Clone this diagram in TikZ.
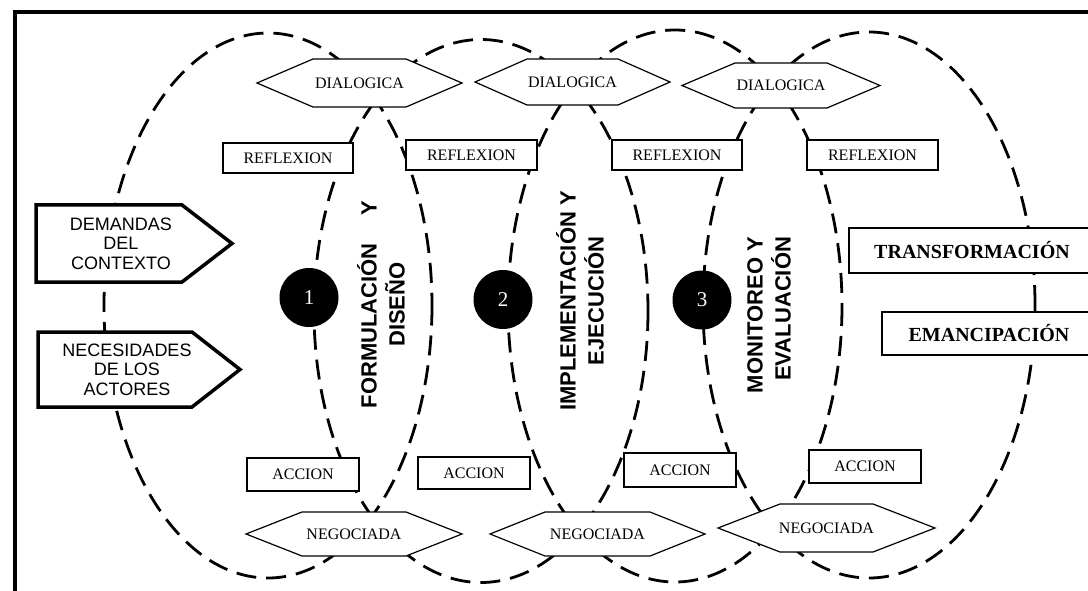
\documentclass[tikz,border=0pt]{standalone}
\usepackage{fontspec}
\setmainfont{Liberation Serif}
\setsansfont{Liberation Sans}

% hexagon pointing left and right: name, x-left, x-right, y-top, y-bottom, cut, text
\newcommand\hexnode[7]{%
  \draw[hexline] (#2,{(#4+#5)/2}) -- (#2+#6,#4) -- (#3-#6,#4) -- (#3,{(#4+#5)/2})
    -- (#3-#6,#5) -- (#2+#6,#5) -- cycle;
  \node[tag] (#1) at ({(#2+#3)/2},{(#4+#5)/2}) {#7};
}
% input arrow box: name, x-left, x-shoulder, x-tip, y-top, y-bottom, text x, text
\newcommand\inputnode[8]{%
  \draw[inputline] (#2,#5) -- (#3,#5) -- (#4,{(#5+#6)/2}) -- (#3,#6) -- (#2,#6) -- cycle;
  \node[inputtext] (#1) at (#7,{(#5+#6)/2}) {#8};
}

\begin{document}
\begin{tikzpicture}[x=1pt,y=-1pt,
  ell/.style={line width=2.8pt, dash pattern=on 20pt off 10pt},
  hexline/.style={line width=1.2pt, fill=white},
  tag/.style={inner sep=0pt, font=\fontsize{16}{18}\selectfont},
  smallbox/.style={draw, line width=1.2pt, fill=white, inner sep=0pt,
    font=\fontsize{16}{18}\selectfont},
  inputline/.style={line width=3.5pt, fill=white, line join=miter},
  inputtext/.style={align=center, inner sep=0pt,
    font=\sffamily\fontsize{18}{19.5}\selectfont},
  outcome/.style={draw, line width=2.5pt, fill=white, inner sep=0pt,
    font=\bfseries\fontsize{20}{22}\selectfont},
  stage/.style={circle, fill=black, minimum size=59pt, inner sep=0pt,
    text=white, font=\fontsize{21}{21}\selectfont},
  phase/.style={rotate=90, inner sep=0pt,
    font=\sffamily\bfseries\fontsize{22}{28}\selectfont}
]
\useasboundingbox (0,0) rectangle (1088,591);
\clip (0,0) rectangle (1088,591);
\fill[white] (0,0) rectangle (1088,591);

% outer frame
\draw[line width=4pt] (15,700) -- (15,12) -- (1200,12);

% the four dashed cycles
\draw[ell] (268,305.5) ellipse [x radius=164, y radius=272.5];
\draw[ell] (481,311) ellipse [x radius=167, y radius=271.5];
\draw[ell] (675,306) ellipse [x radius=167, y radius=276];
\draw[ell] (869,305) ellipse [x radius=166, y radius=273];

% top: dialogic moments
\hexnode{dia1}{257}{462}{59}{107}{56}{DIALOGICA}
\hexnode{dia2}{475}{670}{59}{105}{52}{DIALOGICA}
\hexnode{dia3}{682}{880}{63}{108}{53}{DIALOGICA}

% bottom: negotiated moments
\hexnode{neg1}{246}{462}{512}{556}{56}{NEGOCIADA}
\hexnode{neg2}{490}{705}{512}{556}{55}{NEGOCIADA}
\hexnode{neg3}{718}{935}{504}{552}{62}{NEGOCIADA}

% reflection boxes
\node[smallbox, minimum width=130pt, minimum height=30pt] (ref1) at (288,158) {REFLEXION};
\node[smallbox, minimum width=131pt, minimum height=30pt] (ref2) at (471.5,155) {REFLEXION};
\node[smallbox, minimum width=130pt, minimum height=30pt] (ref3) at (677,155) {REFLEXION};
\node[smallbox, minimum width=131pt, minimum height=30pt] (ref4) at (872.5,155) {REFLEXION};

% action boxes
\node[smallbox, minimum width=112pt, minimum height=33pt] (acc1) at (303,474.5) {ACCION};
\node[smallbox, minimum width=112pt, minimum height=32pt] (acc2) at (474,473) {ACCION};
\node[smallbox, minimum width=112pt, minimum height=34pt] (acc3) at (680,470) {ACCION};
\node[smallbox, minimum width=112pt, minimum height=33pt] (acc4) at (865,466.5) {ACCION};

% inputs
\inputnode{dem}{36}{182}{232}{205}{282}{121}{DEMANDAS\\DEL\\CONTEXTO}
\inputnode{nec}{38}{192}{240}{332}{407}{127}{NECESIDADES\\DE LOS\\ACTORES}

% outcomes
\node[outcome, minimum width=246pt, minimum height=45pt] (trans) at (972,250.5) {TRANSFORMACIÓN};
\node[outcome, minimum width=214pt, minimum height=43pt] (eman) at (989,333.5) {EMANCIPACIÓN};

% numbered stages
\node[stage] (s1) at (309,297.5) {1};
\node[stage] (s2) at (503,299.5) {2};
\node[stage] (s3) at (702,300) {3};

% phase titles
\node[phase, align=center] (p1) at (381,304.5) {FORMULACIÓN\hspace{28pt}Y\\DISEÑO};
\node[phase, align=center] (p2) at (580,301) {IMPLEMENTACIÓN Y\\EJECUCIÓN};
\node[phase, align=right] (p3) at (769,315) {MONITOREO Y\\EVALUACIÓN};
\end{tikzpicture}
\end{document}
